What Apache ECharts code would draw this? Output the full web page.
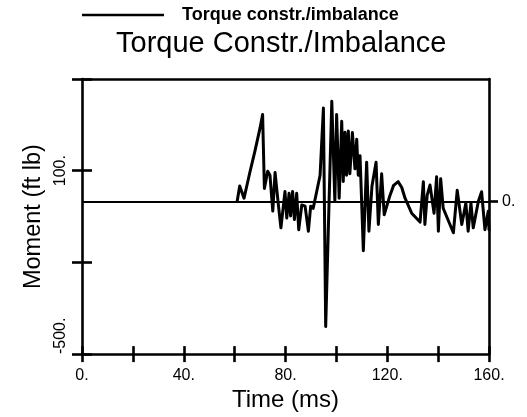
<!DOCTYPE html>
<html>
<head>
<meta charset="utf-8">
<script src="https://cdn.jsdelivr.net/npm/echarts@6/dist/echarts.min.js"></script>
<style>
html,body{margin:0;padding:0;background:#fff;}
#chart{width:527px;height:417px;}
</style>
</head>
<body>
<div id="chart"></div>
<script>
// Data
const timeMs = [61,62,63.7,66,68,70,71,71.7,73,73.9,75,75.9,77.2,78.2,79.8,80.5,81.4,82,82.8,83.5,84.4,85.2,86.4,87.7,89,89.9,90.9,93.6,94.9,95.8,98.2,99.4,100.1,101.1,102.1,102.7,103.4,104,104.7,105.3,106.3,107.3,108,108.6,109.3,110.6,111.9,112.8,114,115.6,116.5,117.8,118.8,121.1,122.5,124.3,125.7,127,129.6,132.9,134.2,134.8,135.7,136.8,138.4,139.4,140.1,141,142,146,147.5,149.3,150.9,151.8,152.9,153.8,155.8,157.1,158.4,159.7,160];
const moment = [0,50,10,95,165,240,284,42,98,85,-32,94,-12,-87,32,-55,26,-48,32,-60,26,-93,-12,-16,-98,-16,-23,85,305,-410,327,0,284,10,262,65,226,85,230,90,225,106,203,85,149,-162,128,-98,50,128,-76,90,-44,20,52,64,45,10,-39,-68,64,-76,20,53,-39,80,-98,74,-23,-103,36,-76,-6,-98,-6,-87,-1,31,-93,-33,-93];
const seriesName = 'Torque constr./imbalance';
const chartTitle = 'Torque Constr./Imbalance';
const xLabelValues = [0,40,80,120,160];
const yLabelTop = [100];
const yLabelBottom = [-500];
const rightLabelValues = [0];

const points = timeMs.map((t,i)=>[t, moment[i]]);
const FONT = '"Liberation Sans", Arial, Helvetica, sans-serif';
const chart = echarts.init(document.getElementById('chart'));
const fmt = v => v + '.';
const grid = {left:82, right:38, top:79, bottom:56};
const baseY = {type:'value', min:-500, max:400, interval:300, splitLine:{show:false}};
const baseX = {type:'value', min:0, max:160, interval:20, splitLine:{show:false}};
const AX = {color:'#000', width:2.6};
chart.setOption({
  animation:false,
  backgroundColor:'#fff',
  title:{text:chartTitle, left:116, top:29, padding:0, textStyle:{fontFamily:FONT, fontSize:29, fontWeight:'normal', color:'#000'}},
  legend:{left:82, top:6, padding:0, itemWidth:82, itemHeight:2.6, icon:'rect', data:[seriesName],
    itemStyle:{color:'#000'},
    textStyle:{fontFamily:FONT, fontSize:18, fontWeight:'bold', color:'#000', padding:[0,0,0,13]}},
  grid:grid,
  xAxis:[
    Object.assign({}, baseX, {position:'bottom',
      name:'Time (ms)', nameLocation:'middle', nameGap:26,
      nameTextStyle:{fontFamily:FONT, fontSize:24, color:'#000'},
      axisLine:{show:true, onZero:false, lineStyle:AX},
      axisTick:{show:true, length:8, lineStyle:AX},
      axisLabel:{customValues:xLabelValues, formatter:fmt, margin:13, fontFamily:FONT, fontSize:16, color:'#000'}}),
    Object.assign({}, baseX, {position:'bottom',
      axisLine:{show:false, onZero:false}, axisTick:{show:true, inside:true, length:8, lineStyle:AX},
      axisLabel:{show:false}}),
    Object.assign({}, baseX, {position:'top',
      axisLine:{show:true, onZero:false, lineStyle:AX},
      axisTick:{show:false}, axisLabel:{show:false}})
  ],
  yAxis:[
    Object.assign({}, baseY, {position:'left',
      name:'Moment (ft lb)', nameLocation:'middle', nameGap:17,
      nameTextStyle:{fontFamily:FONT, fontSize:23.5, color:'#000'},
      axisLine:{show:true, onZero:false, lineStyle:AX},
      axisTick:{show:true, length:10, lineStyle:AX},
      axisLabel:{customValues:yLabelTop, formatter:fmt, rotate:90, margin:13, fontFamily:FONT, fontSize:16, color:'#000'}}),
    Object.assign({}, baseY, {position:'left',
      axisLine:{show:false, onZero:false}, axisTick:{show:true, inside:true, length:10, lineStyle:AX},
      axisLabel:{customValues:yLabelBottom, formatter:fmt, rotate:90, align:'left', margin:13, fontFamily:FONT, fontSize:16, color:'#000'}}),
    Object.assign({}, baseY, {position:'right',
      axisLine:{show:true, onZero:false, lineStyle:AX},
      axisTick:{show:true, customValues:rightLabelValues, length:9, lineStyle:AX},
      axisLabel:{customValues:rightLabelValues, formatter:fmt, margin:13, fontFamily:FONT, fontSize:16, color:'#000'}})
  ],
  series:[{
    name:seriesName, type:'line', xAxisIndex:0, yAxisIndex:0, data:points,
    symbol:'none', showSymbol:false, smooth:false,
    lineStyle:{color:'#000', width:3, join:'round', cap:'round'}, itemStyle:{color:'#000'},
    markLine:{silent:true, symbol:'none', label:{show:false},
      lineStyle:{color:'#000', width:2, type:'solid'}, data:[{yAxis:0}]}
  }]
});
</script>
</body>
</html>
